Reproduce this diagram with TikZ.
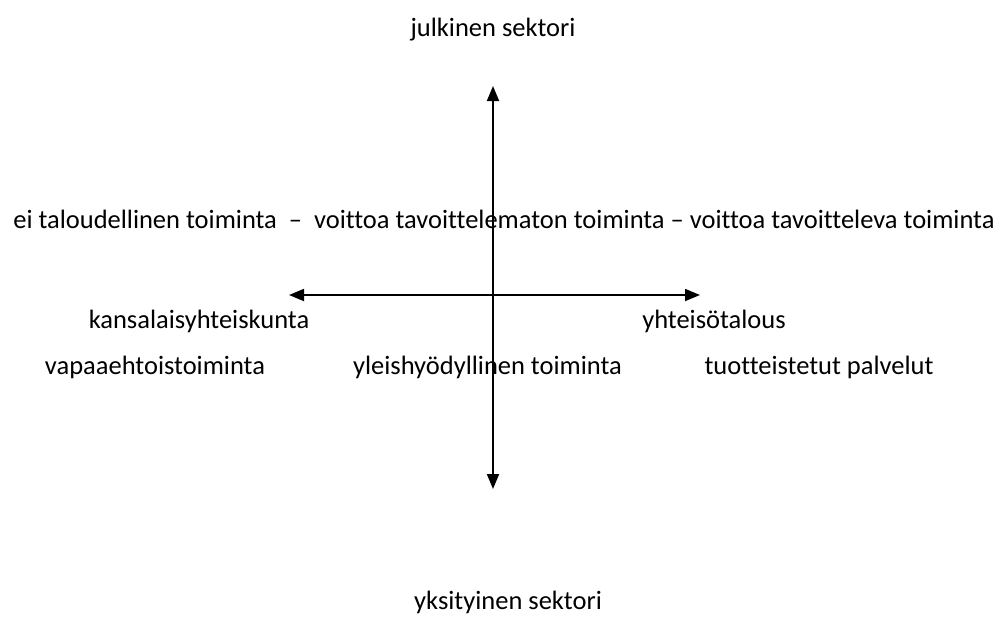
\documentclass[tikz,border=0pt]{standalone}
\usepackage{fontspec}
\setmainfont[Ligatures=NoCommon]{Carlito}
\usetikzlibrary{arrows.meta}
\begin{document}
\begin{tikzpicture}[x=1pt,y=-1pt,
  lbl/.style={font=\fontsize{26.5}{30}\selectfont, inner sep=0pt, anchor=base},
  axis/.style={line width=1.8pt, {Triangle[length=15pt,width=12pt]}-{Triangle[length=15pt,width=12pt]}}]
\useasboundingbox (0,0) rectangle (1008,622);
% axes
\coordinate (top) at (493,86);
\coordinate (bottom) at (493,489);
\coordinate (left) at (289,295);
\coordinate (right) at (700,295);
\draw[axis] (bottom) -- (top);
\draw[axis] (left) -- (right);
% labels
\node[lbl] (pub) at (493,36) {julkinen sektori};
\node[lbl] (mid) at (504,228) {ei taloudellinen toiminta \ – \ voittoa tavoittelematon toiminta – voittoa tavoitteleva toiminta};
\node[lbl] (civ) at (199,328) {kansalaisyhteiskunta};
\node[lbl] (soc) at (714,328) {yhteisötalous};
\node[lbl] (vol) at (155,374) {vapaaehtoistoiminta};
\node[lbl] (gen) at (487.5,374) {yleishyödyllinen toiminta};
\node[lbl] (prod) at (819,374) {tuotteistetut palvelut};
\node[lbl] (priv) at (508,609) {yksityinen sektori};
\end{tikzpicture}
\end{document}
